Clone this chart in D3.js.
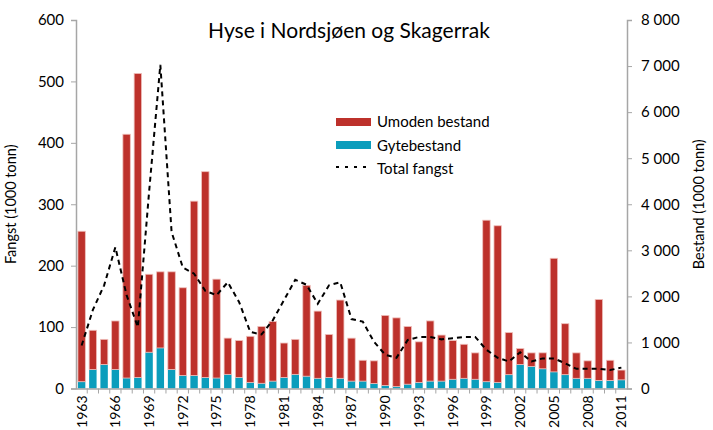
<!DOCTYPE html>
<html>
<head>
<meta charset="utf-8">
<script src="https://cdn.jsdelivr.net/npm/d3@7"></script>
<style>
  body { margin: 0; background: #fff; }
  svg text { font-family: Lato, "DejaVu Sans", sans-serif; fill: #000; }
</style>
</head>
<body>
<div id="chart"></div>
<script>
// years on the x axis
var years = d3.range(1963, 2012);

// Gytebestand (1000 tonn, right axis)
var gyte = [147, 413, 520, 413, 227, 240, 787, 880, 413, 280,
            280, 240, 227, 307, 240, 133, 113, 160, 240, 307,
            267, 221, 240, 221, 160, 160, 107, 67, 40, 93,
            133, 160, 160, 200, 221, 200, 147, 133, 300, 520,
            480, 427, 360, 300, 221, 221, 173, 173, 187];

// Umoden bestand (1000 tonn, right axis), stacked on top
var umoden = [3267, 851, 547, 1053, 5293, 6600, 1693, 1653, 2120, 1907,
              3787, 4467, 2147, 787, 800, 1000, 1233, 1293, 747, 760,
              1973, 1459, 933, 1699, 933, 453, 493, 1520, 1493, 1253,
              880, 1307, 1000, 840, 739, 573, 3507, 3400, 913, 347,
              293, 347, 2467, 1107, 552, 379, 1760, 440, 213];

// Total fangst (1000 tonn, left axis)
var fangst = [70, 128, 168, 230, 152, 100, 320, 527, 255, 197,
              187, 159, 152, 173, 141, 92, 88, 111, 144, 177,
              169, 138, 168, 173, 113, 109, 76, 55, 50, 79,
              84, 84, 80, 82, 84, 84, 63, 50, 44, 59,
              44, 49, 49, 41, 32, 32, 32, 30, 34];

var leftTicks = [0, 100, 200, 300, 400, 500, 600];
var rightTicks = [0, 1000, 2000, 3000, 4000, 5000, 6000, 7000, 8000];

var legendItems = ["Umoden bestand", "Gytebestand", "Total fangst"];

var W = 713, H = 430;
var margin = {top: 20, right: 86, bottom: 41.5, left: 76},
    width = W - margin.left - margin.right,
    height = H - margin.top - margin.bottom;

var svg = d3.select("#chart").append("svg")
    .attr("width", W)
    .attr("height", H);

var g = svg.append("g")
    .attr("transform", "translate(" + margin.left + "," + margin.top + ")");

// scales
var x = d3.scaleBand().domain(years).range([0, width]).paddingInner(0.34).paddingOuter(0.17);
var yL = d3.scaleLinear().domain([0, 600]).range([height, 0]);
var yR = d3.scaleLinear().domain([0, 8000]).range([height, 0]);

var data = years.map(function (yr, i) {
  return {year: yr, gyte: gyte[i], umoden: umoden[i], fangst: fangst[i]};
});

// bars: gytebestand at the bottom, umoden on top
g.selectAll(".gyte")
    .data(data)
  .enter().append("rect")
    .attr("class", "gyte")
    .attr("x", function (d) { return x(d.year); })
    .attr("width", x.bandwidth())
    .attr("y", function (d) { return yR(d.gyte); })
    .attr("height", function (d) { return yR(0) - yR(d.gyte); })
    .style("fill", "#0b9dbc");

g.selectAll(".umoden")
    .data(data)
  .enter().append("rect")
    .attr("class", "umoden")
    .attr("x", function (d) { return x(d.year); })
    .attr("width", x.bandwidth())
    .attr("y", function (d) { return yR(d.gyte + d.umoden); })
    .attr("height", function (d) { return yR(d.gyte) - yR(d.gyte + d.umoden); })
    .style("fill", "#bd312b")
    .style("stroke", "#efc0bc")
    .style("stroke-width", 0.8);

// total fangst line
var line = d3.line()
    .x(function (d) { return x(d.year) + x.bandwidth() / 2; })
    .y(function (d) { return yL(d.fangst); });

g.append("path")
    .datum(data)
    .attr("d", line)
    .style("fill", "none")
    .style("stroke", "#000")
    .style("stroke-width", 2)
    .style("stroke-dasharray", "5,4");

// axes
var fmt = d3.formatLocale({decimal: ",", thousands: " ", grouping: [3], currency: ["", " kr"]}).format(",d");

var axL = g.append("g")
    .call(d3.axisLeft(yL).tickValues(leftTicks).tickSize(5).tickPadding(7));
var axR = g.append("g")
    .attr("transform", "translate(" + width + ",0)")
    .call(d3.axisRight(yR).tickValues(rightTicks).tickSize(5).tickPadding(9).tickFormat(fmt));

var xAxis = d3.axisBottom(x).tickSize(0).tickPadding(0)
    .tickFormat(function (d) { return (d - 1963) % 3 === 0 ? d : ""; });
var axB = g.append("g")
    .attr("transform", "translate(0," + height + ")")
    .call(xAxis);

// tick marks between categories
g.append("g")
    .attr("transform", "translate(0," + height + ")")
  .selectAll("line")
    .data(years.slice(1))
  .enter().append("line")
    .attr("x1", function (d) { return x(d) - x.step() * x.paddingInner() / 2; })
    .attr("x2", function (d) { return x(d) - x.step() * x.paddingInner() / 2; })
    .attr("y1", 0)
    .attr("y2", 5)
    .style("stroke", "#a6a6a6");

[axL, axR, axB].forEach(function (a) {
  a.select(".domain").style("stroke", "#a6a6a6").style("stroke-width", 1.5);
  a.selectAll(".tick line").style("stroke", "#a6a6a6");
  a.selectAll("text").style("font-size", "15px").style("font-family", "Lato, sans-serif").style("fill", "#000");
});

// year labels read bottom to top, and must stay inside the picture
axB.selectAll("text")
    .attr("transform", "rotate(-90)")
    .attr("x", -7)
    .attr("y", 0)
    .attr("dy", "0.35em")
    .style("text-anchor", "end")
    .style("font-size", "14px");

// title
svg.append("text")
    .attr("x", 349)
    .attr("y", 38)
    .style("text-anchor", "middle")
    .style("font-size", "21px")
    .text("Hyse i Nordsjøen og Skagerrak");

// axis titles
svg.append("text")
    .attr("transform", "translate(16," + (margin.top + height / 2) + ") rotate(-90)")
    .style("text-anchor", "middle")
    .style("font-size", "14.5px")
    .text("Fangst (1000 tonn)");

svg.append("text")
    .attr("transform", "translate(704," + (margin.top + height / 2) + ") rotate(-90)")
    .style("text-anchor", "middle")
    .style("font-size", "14.5px")
    .text("Bestand (1000 tonn)");

// legend
var leg = svg.append("g").attr("transform", "translate(336,118)");
leg.append("rect").attr("x", 0).attr("y", 0).attr("width", 35).attr("height", 8).style("fill", "#bd312b");
leg.append("rect").attr("x", 0).attr("y", 23).attr("width", 35).attr("height", 8).style("fill", "#0b9dbc");
leg.append("line").attr("x1", 0).attr("x2", 35).attr("y1", 49).attr("y2", 49)
    .style("stroke", "#000").style("stroke-width", 2).style("stroke-dasharray", "3,6");
leg.selectAll("text.lg")
    .data(legendItems)
  .enter().append("text")
    .attr("class", "lg")
    .attr("x", 41)
    .attr("y", function (d, i) { return 4 + i * 23.5; })
    .attr("dy", "0.35em")
    .style("font-size", "15px")
    .text(function (d) { return d; });
</script>
</body>
</html>
